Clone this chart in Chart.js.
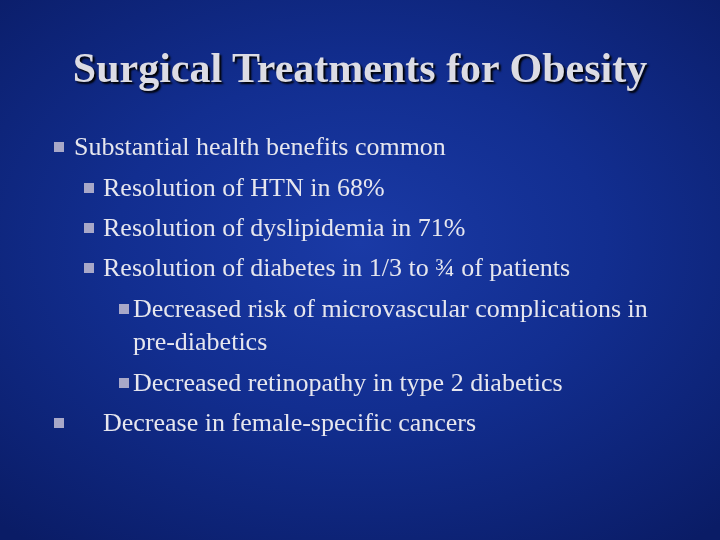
<!DOCTYPE html>
<html><head><meta charset="utf-8">
<script src="https://cdn.jsdelivr.net/npm/chart.js@4"></script>
<style>
html,body{margin:0;padding:0;width:720px;height:540px;overflow:hidden}
body{background:radial-gradient(ellipse 75% 70% at 50% 45%,#1a3aa6 0%,#122e90 45%,#0a1c66 100%);position:relative;font-family:"Liberation Serif","Times New Roman",serif}
#c{position:absolute;left:0;top:0}
#title{position:absolute;left:0;width:720px;top:44px;text-align:center;font-size:42px;font-weight:bold;color:#dcdce4;text-shadow:2px 2px 2px #000}
.l{position:absolute;color:#e6e6ee;font-size:26px;white-space:nowrap;line-height:33px}
.b{position:absolute;width:10px;height:10px;background:#a8a8c8}
</style></head><body>
<canvas id="c" width="720" height="540"></canvas>
<div id="title"></div>
<div id="body"></div>
<script>
const titleText = "Surgical Treatments for Obesity";
const lineTexts = ["Substantial health benefits common","Resolution of HTN in 68%","Resolution of dyslipidemia in 71%","Resolution of diabetes in 1/3 to ¾ of patients","Decreased risk of microvascular complications in","pre-diabetics","Decreased retinopathy in type 2 diabetics","Decrease in female-specific cancers"];
const lineLevels = [1,2,2,2,3,0,3,1];
const lineTops = [130,171,211,251,292,325,366,406];
document.getElementById('title').textContent = titleText;
const textX = {1:74,2:103,3:133,0:133};
const bulletX = {1:54,2:84,3:119};
const body = document.getElementById('body');
lineTexts.forEach((t,i)=>{
  const lv=lineLevels[i];
  const d=document.createElement('div');d.className='l';d.textContent=t;
  d.style.left=(i===7?103:textX[lv])+'px';d.style.top=lineTops[i]+'px';body.appendChild(d);
  if(lv){const b=document.createElement('div');b.className='b';
    b.style.left=bulletX[lv]+'px';b.style.top=(lineTops[i]+12)+'px';body.appendChild(b);}
});
new Chart(document.getElementById('c'),{type:'bar',data:{labels:[],datasets:[]},
 options:{responsive:false,animation:false,plugins:{legend:{display:false},tooltip:{enabled:false}},
 scales:{x:{display:false},y:{display:false}}}});
</script>
</body></html>
